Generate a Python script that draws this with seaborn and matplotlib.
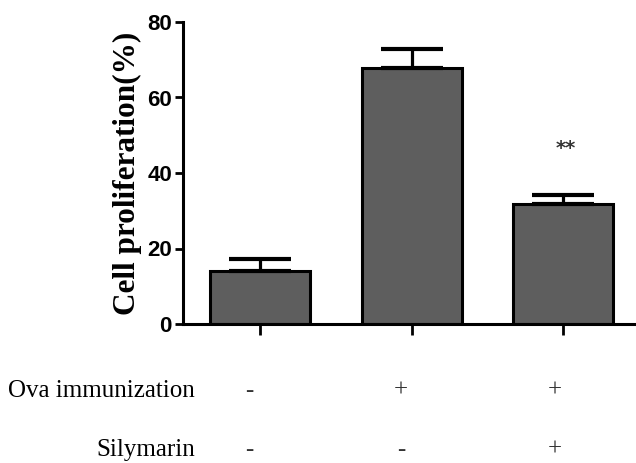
import matplotlib
matplotlib.use("Agg")
import matplotlib.pyplot as plt
import seaborn as sns
import numpy as np

groups = ["Control", "Ova", "Ova+Silymarin"]
values = [14.0, 67.8, 31.8]
errors = [3.1, 5.0, 2.3]
ova_signs = ["-", "+", "+"]
sily_signs = ["-", "-", "+"]
row_labels = ["Ova immunization", "Silymarin"]
yticks = [0, 20, 40, 60, 80]

sns.set_style("white")
fig = plt.figure(figsize=(6.36, 4.63), dpi=100)
ax = fig.add_axes([183/636, 139/463, 1 - 183/636, (324-22)/463])

sns.barplot(x=groups, y=values, color="#5e5e5e", edgecolor="black",
            linewidth=2.2, width=0.66, ax=ax, saturation=1)
ax.errorbar(range(len(groups)), values, yerr=[np.zeros(len(errors)), errors],
            fmt="none", ecolor="black", elinewidth=2.3, capsize=22, capthick=3)

ax.set_ylim(0, 80)
ax.set_xlim(-0.507, 2.48)
ax.set_yticks(yticks)
ax.set_yticklabels([str(t) for t in yticks], fontfamily="Liberation Sans",
                   fontweight="bold", fontsize=16, color="black")
ax.set_xticks(range(len(groups)))
ax.set_xticklabels([])
ax.tick_params(axis="y", length=6, width=2, direction="out", pad=2, left=True,
               color="black")
ax.tick_params(axis="x", length=8, width=2, direction="out", bottom=True,
               color="black")
for s in ["top", "right"]:
    ax.spines[s].set_visible(False)
for s in ["left", "bottom"]:
    ax.spines[s].set_linewidth(2.2)
    ax.spines[s].set_color("black")
ax.set_ylabel("Cell proliferation(%)", fontfamily="Liberation Serif",
              fontweight="bold", fontsize=22.5, labelpad=4, color="black")

ax.text(2.02, 46.5, "**", ha="center", va="center", fontsize=14,
        fontfamily="DejaVu Sans", color="#333333", fontweight="bold")

sign_x = [249, 401, 555]
for i in range(3):
    fig.text(sign_x[i]/636, 1 - 391/463, ova_signs[i], ha="center", va="center",
             fontfamily="Liberation Serif", fontsize=18, color="#333333")
    fig.text(sign_x[i]/636, 1 - 450/463, sily_signs[i], ha="center", va="center",
             fontfamily="Liberation Serif", fontsize=18, color="#333333")
fig.text(195/636, 1 - 391/463, row_labels[0], ha="right", va="center",
         fontfamily="Liberation Serif", fontsize=18, color="black")
fig.text(195/636, 1 - 450/463, row_labels[1], ha="right", va="center",
         fontfamily="Liberation Serif", fontsize=18, color="black")

fig.savefig("out.png", dpi=100)
